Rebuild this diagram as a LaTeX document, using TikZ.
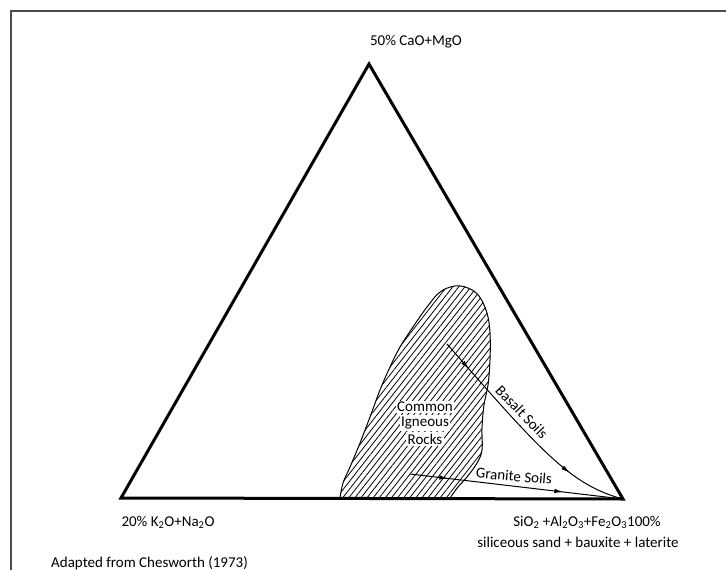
\documentclass[tikz,border=0pt]{standalone}
\usepackage{fontspec}
\setmainfont{Carlito}
\usetikzlibrary{
  arrows.meta,
  decorations.markings,
  patterns.meta
}

\begin{document}
\begin{tikzpicture}[
  x=1pt, y=-1pt,
  frame/.style={
    draw=black!70, line width=2pt},
  edge/.style={
    line width=3pt, line join=miter},
  lbl/.style={
    font=\fontsize{15}{17}\selectfont,
    inner sep=1pt},
  inlbl/.style={lbl,
    fill=white, inner sep=1.5pt},
  rocks/.style={
    line width=1pt,
    pattern={Lines[angle=52,
      distance=4.8pt, line width=0.8pt]}},
  soil/.style={
    line width=1pt},
  midarrows/.style 2 args={
    decoration={markings,
      mark=at position #1 with
        {\arrow{Latex[length=9pt, width=4.5pt]}},
      mark=at position #2 with
        {\arrow{Latex[length=9pt, width=4.5pt]}}},
    postaction={decorate}}
]
\useasboundingbox (0,0) rectangle (726,570);

\draw[frame] (11,570) -- (11,11) -- (726,11);

\coordinate (apex) at (369,64);
\coordinate (kna) at (121,498);
\coordinate (sio) at (623,499);

% common igneous rocks field
\draw[rocks] (340,499)
  -- plot[smooth, tension=0.6] coordinates {
    (340,498) (343,483) (350,467) (360,443)
    (370,417) (380,390) (390,367) (400,347)
    (413,327) (427,307) (440,292) (455,286)
    (468,288) (479,296) (487,313) (490,333)
    (490,360) (488,385) (484,405) (482,428)
    (482,450) (477,463) (467,477) (458,487)
    (450,498)}
  -- cycle;

\draw[edge] (apex) -- (kna) -- (sio) -- cycle;

\node[inlbl] (common) at (425,407) {Common};
\node[inlbl] (igneous) at (425,423) {Igneous};
\node[inlbl] (rockslbl) at (425,439) {Rocks};

% weathering paths
\coordinate (bstart) at (447,344);
\coordinate (gstart) at (410,474);
\draw[soil, midarrows={0.14}{0.75}] (bstart)
  .. controls (540,450) and (570,485) .. (sio);
\draw[soil, midarrows={0.18}{0.72}] (gstart) -- (sio);

\node[lbl, rotate=-46] (basalt) at (522,412)
  {Basalt Soils};
\node[lbl, rotate=-5] (granite) at (514,476)
  {Granite Soils};

\node[lbl] (apexlbl) at (416,42)
  {50\% CaO+MgO};
\node[lbl] (knalbl) at (168,522)
  {20\% K\textsubscript{2}O+Na\textsubscript{2}O};
\node[lbl] (siolbl) at (587,522)
  {SiO\textsubscript{2} +Al\textsubscript{2}O\textsubscript{3}+Fe\textsubscript{2}O\textsubscript{3}100\%};
\node[lbl] (sandlbl) at (578,542)
  {siliceous sand + bauxite + laterite};
\node[lbl, anchor=west] (srclbl) at (50,563)
  {Adapted from Chesworth (1973)};

\end{tikzpicture}
\end{document}
